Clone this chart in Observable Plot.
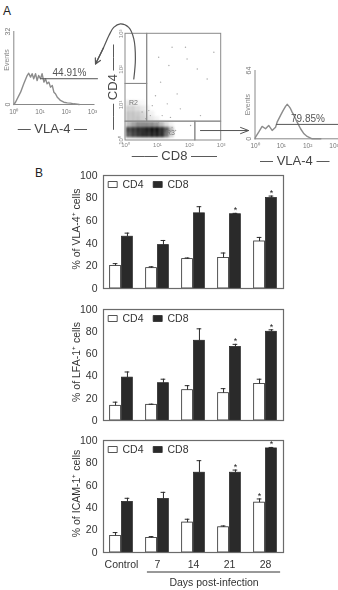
<!DOCTYPE html>
<html>
<head>
<meta charset="utf-8">
<script src="https://cdn.jsdelivr.net/npm/d3@7"></script>
<script src="https://cdn.jsdelivr.net/npm/@observablehq/plot@0.6"></script>
<style>
  html, body { margin: 0; padding: 0; background: #fff; }
  #fig { position: relative; width: 338px; height: 590px; overflow: hidden;
         font-family: "Liberation Sans", Arial, sans-serif; }
  #fig > svg { position: absolute; left: 0; }
  .tag { position: absolute; font-size: 12px; color: #222; line-height: 1; }
</style>
</head>
<body>
<div id="fig">
  <div class="tag" style="left:3px;top:5px">A</div>
  <div class="tag" style="left:35px;top:167px">B</div>
</div>
<script>
// ---------- Panel B: adhesion molecule expression on T cell subsets ----------
const days = ["Control", "7", "14", "21", "28"];
const subsets = ["CD4", "CD8"];

// % of VLA-4+ cells (mean, SEM)
const vla4CD4 = [20, 18, 26, 27, 41.6];
const vla4CD4Err = [2, 1.2, 1, 4.4, 3.6];
const vla4CD8 = [45.8, 38.4, 66.5, 65.7, 80];
const vla4CD8Err = [3.2, 4.1, 5.9, 0.8, 1.8];
const vla4Stars = ["21 CD8", "28 CD8"];

// % of LFA-1+ cells (mean, SEM)
const lfa1CD4 = [13.2, 14.1, 27.3, 24.6, 32.9];
const lfa1CD4Err = [3.3, 0.6, 4.1, 4.1, 4.3];
const lfa1CD8 = [38.6, 33.6, 71.8, 66.2, 79.9];
const lfa1CD8Err = [5.1, 3.6, 10.8, 2.4, 1.8];
const lfa1Stars = ["21 CD8", "28 CD8"];

// % of ICAM-1+ cells (mean, SEM)
const icam1CD4 = [14.8, 13, 26.7, 22.5, 44.5];
const icam1CD4Err = [3, 1.2, 3, 1.2, 3.3];
const icam1CD8 = [45.1, 47.7, 71.2, 71.2, 92.9];
const icam1CD8Err = [3.3, 6, 10.8, 2.4, 0.9];
const icam1Stars = ["21 CD8", "28 CD4", "28 CD8"];

// ---------- Panel A: flow cytometry ----------
const decades = [0, 1, 2, 3];
const decadeSup = ["\u2070", "\u00b9", "\u00b2", "\u00b3"];

// VLA-4 histogram of the CD4 gate (log10 fluorescence, events)
const leftHistLog = [0, 0.065, 0.26, 0.38, 0.51, 0.57, 0.64, 0.70, 0.76, 0.83, 0.89, 0.95, 1.02, 1.08, 1.15, 1.21, 1.27, 1.34, 1.40, 1.47, 1.53, 1.59, 1.66, 1.72, 1.78, 1.91, 2.04, 2.16, 2.29, 2.5];
const leftHistEvents = [0, 1.0, 5.4, 9.1, 12.7, 13.7, 12, 13.5, 11.3, 13.5, 10.5, 12.7, 11.3, 13.5, 9.8, 11.3, 9.1, 9.8, 7.6, 8.3, 5.4, 4.7, 3.2, 2.5, 1.8, 1.0, 0.7, 0.6, 0.3, 0];
const leftMax = 32;
const leftGate = [1.02, 3.23];
const leftGateLevel = 11.3;
const leftGateLabel = "44.91%";

// VLA-4 histogram of the CD8 gate
const rightHistLog = [0, 0.02, 0.14, 0.27, 0.40, 0.52, 0.65, 0.78, 0.84, 0.97, 1.07, 1.16, 1.22, 1.29, 1.35, 1.41, 1.48, 1.60, 1.73, 1.86, 1.98, 2.17, 2.5];
const rightHistEvents = [0, 1.5, 6.2, 11.6, 9.4, 12.5, 7.8, 10.9, 15.6, 21.9, 26.6, 30.4, 32.3, 30.4, 28.2, 25, 21.9, 15.6, 9.4, 4.7, 2.2, 0, 0];
const rightMax = 64;
const rightGate = [0.82, 3.2];
const rightGateLevel = 13.5;
const rightGateLabel = "79.85%";

// CD8 vs CD4 dot plot: event density on a log10 grid
const cd8Bins = [0.1, 0.25, 0.4, 0.55, 0.7, 0.85, 1.0, 1.15, 1.3, 1.45];
const cd4Bins = [0.15, 0.3, 0.45, 0.6, 0.75, 0.9, 1.05];
const density = [
  [0.70, 0.80, 0.85, 0.90, 0.90, 0.95, 0.95, 0.90, 0.60, 0.20],
  [0.80, 0.85, 0.90, 0.90, 0.95, 1.00, 1.00, 0.90, 0.70, 0.30],
  [0.30, 0.40, 0.50, 0.50, 0.50, 0.50, 0.45, 0.30, 0.15, 0.05],
  [0.25, 0.25, 0.25, 0.20, 0.15, 0.10, 0.05, 0, 0, 0],
  [0.25, 0.25, 0.22, 0.18, 0.10, 0.05, 0, 0, 0, 0],
  [0.20, 0.20, 0.15, 0.10, 0.05, 0, 0, 0, 0, 0],
  [0.10, 0.10, 0.05, 0.03, 0, 0, 0, 0, 0, 0]
];
// isolated events outside the main populations
const sparseCD8 = [1.46, 1.04, 1.36, 1.93, 2.25, 1.10, 1.62, 2.56, 1.31, 0.94, 0.84, 1.72, 2.35, 1.15, 1.41, 0.78, 0.73, 2.04, 2.77, 1.88, 1.46, 1.57, 0.89, 1.04, 0.63, 0.52];
const sparseCD4 = [2.62, 2.34, 2.11, 2.29, 2.01, 1.64, 1.31, 1.73, 1.03, 1.26, 0.98, 0.89, 0.70, 0.70, 0.65, 0.70, 0.84, 0.42, 2.48, 2.62, 0.37, 0.28, 0.53, 0.51, 0.61, 0.80];
// gate boundaries (log10 units)
const cd8Cut = 0.68, cd8CutR3 = 2.19, cd4Cut = 0.53, cd4CutR2 = 1.59;
const gateNames = ["R2", "R3"];
// curved pointer from the CD4 gate to its histogram, and from the CD8 gate to its histogram
const loopCD8 = [0.26, 0.31, 0.26, 0.10, -0.16, -0.37, -0.52, -0.69, -0.94];
const loopCD4 = [1.73, 2.29, 2.86, 3.18, 3.28, 3.18, 2.95, 2.61, 2.15];
const pointerCD8 = [2.35, 3.86];
const pointerCD4 = 0.28;

const FONT = '"Liberation Sans", Arial, sans-serif';
const fig = document.getElementById("fig");
function place(svg, top) {
  svg.style.top = top + "px";
  fig.appendChild(svg);
}
const baseStyle = extra => Object.assign({background: "transparent", overflow: "visible", fontFamily: FONT}, extra);
const decadeLabel = d => "10" + decadeSup[d];

// ---------- histogram builder ----------
function histogram({left, right, top, bottom, xMax, yMax, logs, events, gate, level, gateLabel, eventsDy, labelDy, labelDx}) {
  const pts = logs.map((x, i) => ({x, y: events[i]}));
  return Plot.plot({
    width: 338, height: 170,
    marginLeft: left, marginRight: 338 - right, marginTop: top, marginBottom: 170 - bottom,
    style: baseStyle({fontSize: "7px", color: "#666", filter: "grayscale(1)"}),
    x: {domain: [0, xMax], axis: null},
    y: {domain: [0, yMax], axis: null},
    marks: [
      Plot.ruleY([0], {stroke: "#888", strokeWidth: 1}),
      Plot.ruleX([0], {stroke: "#888", strokeWidth: 1}),
      Plot.line(pts, {x: "x", y: "y", stroke: "#8c8c8c", strokeWidth: 1.4}),
      Plot.ruleY([level], {x1: () => gate[0], x2: () => gate[1], stroke: "#555", strokeWidth: 1}),
      Plot.text([gateLabel], {x: () => (gate[0] + gate[1]) / 2, y: () => level, text: d => d, dy: -6, fontSize: 10, fill: "#555"}),
      Plot.text(decades, {x: d => d, y: () => 0, text: decadeLabel, dy: 7, fontSize: 6.5, fill: "#777"}),
      Plot.text([0, yMax], {x: () => 0, y: d => d, text: d => String(d), rotate: -90, dx: -6, fontSize: 7, fill: "#777"}),
      Plot.text(["Events"], {x: () => 0, y: () => yMax / 2, rotate: -90, dx: -7, dy: eventsDy, text: d => d,
        textAnchor: "middle", lineAnchor: "middle", fontSize: 7, fill: "#888"}),
      Plot.text(["\u2014 VLA-4 \u2014"], {x: () => xMax / 2, y: () => 0, dy: labelDy, dx: labelDx, text: d => d,
        textAnchor: "middle", lineAnchor: "middle", fontSize: 13, fill: "#444"})
    ]
  });
}

place(histogram({left: 13.3, right: 94.5, top: 31, bottom: 104, xMax: 3.1, yMax: leftMax,
  logs: leftHistLog, events: leftHistEvents, gate: leftGate, level: leftGateLevel, gateLabel: leftGateLabel,
  eventsDy: -8, labelDy: 24, labelDx: -2}), 0);
place(histogram({left: 254.5, right: 338, top: 70, bottom: 138.3, xMax: 3.17, yMax: rightMax,
  logs: rightHistLog, events: rightHistEvents, gate: rightGate, level: rightGateLevel, gateLabel: rightGateLabel,
  eventsDy: 0, labelDy: 22, labelDx: -2}), 0);

// ---------- dot plot ----------
const dotFrame = {width: 338, height: 170, marginLeft: 125, marginRight: 338 - 220.7, marginTop: 33.3, marginBottom: 30};
const cells = [];
cd4Bins.forEach((cd4, r) => cd8Bins.forEach((cd8, c) => {
  if (density[r][c] > 0) cells.push({cd8, cd4, density: density[r][c]});
}));
const hx = (cd8Bins[1] - cd8Bins[0]) / 2, hy = (cd4Bins[1] - cd4Bins[0]) / 2;

place(Plot.plot({
  ...dotFrame,
  style: baseStyle({filter: "blur(1.1px)"}),
  x: {domain: [0, 3], axis: null},
  y: {domain: [0, 3], axis: null},
  color: {type: "linear", domain: [0, 1], range: ["#ffffff", "#141414"]},
  marks: [
    Plot.rect(cells, {x1: d => d.cd8 - hx, x2: d => d.cd8 + hx, y1: d => d.cd4 - hy, y2: d => d.cd4 + hy, fill: "density"})
  ]
}), 0);

const gates = [
  {x1: 0, x2: cd8Cut, y1: cd4CutR2, y2: 3},
  {x1: 0, x2: cd8Cut, y1: cd4Cut, y2: cd4CutR2},
  {x1: cd8Cut, x2: 3, y1: cd4Cut, y2: 3},
  {x1: 0, x2: cd8CutR3, y1: 0, y2: cd4Cut},
  {x1: cd8CutR3, x2: 3, y1: 0, y2: cd4Cut}
];
const sparse = sparseCD8.map((cd8, i) => ({cd8, cd4: sparseCD4[i]}));
const loop = loopCD8.map((cd8, i) => ({cd8, cd4: loopCD4[i]}));
const n = loop.length;

place(Plot.plot({
  ...dotFrame,
  style: baseStyle({fontSize: "6px", color: "#666", filter: "grayscale(1)"}),
  x: {domain: [0, 3], axis: null},
  y: {domain: [0, 3], axis: null},
  marks: [
    Plot.dot(sparse, {x: "cd8", y: "cd4", r: 0.7, fill: "#a8a8a8", stroke: null}),
    Plot.rect(gates, {x1: "x1", x2: "x2", y1: "y1", y2: "y2", fill: "none", stroke: "#8a8a8a", strokeWidth: 1}),
    Plot.text(gateNames, {
      x: d => d === "R2" ? cd8Cut * 0.37 : cd8Cut * 2.07,
      y: d => d === "R2" ? (cd4Cut + cd4CutR2) / 2 : cd4Cut * 0.42,
      text: d => d, fontSize: 7, fill: "#777"
    }),
    Plot.text(decades, {x: d => d, y: () => 0, text: decadeLabel, dy: 5, fontSize: 6, fill: "#888"}),
    Plot.text(decades, {x: () => 0, y: d => d, text: decadeLabel, rotate: -90, dx: -4, fontSize: 6, fill: "#888"}),
    Plot.text(["\u2014\u2014 CD4 \u2014\u2014"], {x: () => 0, y: () => 1.5, rotate: -90, dx: -13, text: d => d,
      textAnchor: "middle", lineAnchor: "middle", fontSize: 13, fill: "#444"}),
    Plot.text(["\u2014\u2014 CD8 \u2014\u2014"], {x: () => 1.5, y: () => 0, dy: 15, dx: 1, text: d => d,
      textAnchor: "middle", lineAnchor: "middle", fontSize: 13, fill: "#444"}),
    Plot.line(loop, {x: "cd8", y: "cd4", curve: "catmull-rom", stroke: "#555", strokeWidth: 1.2}),
    Plot.arrow([0], {x1: () => loop[n - 2].cd8, y1: () => loop[n - 2].cd4, x2: () => loop[n - 1].cd8, y2: () => loop[n - 1].cd4,
      stroke: "#555", strokeWidth: 1.2, headLength: 11, headAngle: 55}),
    Plot.arrow([0], {x1: () => pointerCD8[0], x2: () => pointerCD8[1], y1: () => pointerCD4, y2: () => pointerCD4,
      stroke: "#555", strokeWidth: 1, headLength: 13, headAngle: 42})
  ]
}), 0);

// ---------- bar panels ----------
const swatch = {draw(context, size) { const s = Math.sqrt(size); context.rect(-0.75 * s, -0.5 * s, 1.5 * s, s); }};

function barPanel({frameH, label, cd4, cd4Err, cd8, cd8Err, stars, showDays}) {
  const rows = [];
  days.forEach((day, i) => {
    rows.push({i, day, subset: "CD4", value: cd4[i], err: cd4Err[i]});
    rows.push({i, day, subset: "CD8", value: cd8[i], err: cd8Err[i]});
  });
  rows.forEach(r => r.star = stars.includes(`${r.day} ${r.subset}`));
  const barW = 0.3, gap = 0.015, cap = 0.065;
  const left = r => r.subset === "CD4" ? r.i - gap - barW : r.i + gap;
  const mid = r => left(r) + barW / 2;
  const top2 = r => r.value + r.err;
  const marginTop = 15, marginBottom = showDays ? 40 : 8;
  const ruleX1 = 1 - 0.28, ruleX2 = days.length - 1 + 0.42;
  const marks = [
    Plot.rect(rows, {x1: left, x2: r => left(r) + barW, y1: 0, y2: "value", fill: "subset", stroke: "#2a2a2a", strokeWidth: 0.8}),
    Plot.ruleX(rows, {x: mid, y1: "value", y2: top2, stroke: "#2a2a2a", strokeWidth: 1}),
    Plot.ruleY(rows, {y: top2, x1: r => mid(r) - cap, x2: r => mid(r) + cap, stroke: "#2a2a2a", strokeWidth: 1}),
    Plot.text(rows.filter(r => r.star), {x: mid, y: top2, text: () => "*", dy: -3, fontSize: 9, fill: "#222"}),
    Plot.frame({stroke: "#6b6b6b", strokeWidth: 1.2}),
    Plot.text([label], {x: () => -0.5, y: () => 50, rotate: -90, dx: -27, dy: -3, text: d => d,
      textAnchor: "middle", lineAnchor: "middle", fontSize: 10.5, fill: "#333"})
  ];
  subsets.forEach((s, j) => {
    marks.push(Plot.dot([s], {frameAnchor: "top-left", dx: 9.2 + 45 * j, dy: 9, symbol: swatch, r: 3.385, fill: d => d, stroke: "#2a2a2a", strokeWidth: 0.8}));
    marks.push(Plot.text([s], {frameAnchor: "top-left", dx: 19 + 45 * j, dy: 9, text: d => d, textAnchor: "start", lineAnchor: "middle", fontSize: 10.5, fill: "#333"}));
  });
  if (showDays) {
    marks.push(Plot.ruleY([0], {x1: () => ruleX1, x2: () => ruleX2, dy: 19.5, stroke: "#333", strokeWidth: 1}));
    marks.push(Plot.text(["Days post-infection"], {x: () => (ruleX1 + ruleX2) / 2, y: () => 0, dy: 30.5, text: d => d,
      textAnchor: "middle", lineAnchor: "middle", fontSize: 10.5, fill: "#333"}));
  }
  return Plot.plot({
    width: 338, height: marginTop + frameH + marginBottom,
    marginLeft: 103, marginRight: 55, marginTop, marginBottom,
    style: baseStyle({fontSize: "10.5px", color: "#333", filter: "grayscale(1)"}),
    x: {type: "linear", domain: [-0.5, days.length - 0.5], ticks: d3.range(days.length), tickFormat: i => days[i],
        tickSize: 0, tickPadding: 8, label: null, axis: showDays ? "bottom" : null},
    y: {domain: [0, 100], ticks: d3.range(0, 101, 20), tickSize: 0, tickPadding: 6, label: null},
    color: {domain: subsets, range: ["#ffffff", "#2a2a2a"]},
    marks
  });
}

place(barPanel({frameH: 113, label: "% of VLA-4\u207a cells", cd4: vla4CD4, cd4Err: vla4CD4Err, cd8: vla4CD8, cd8Err: vla4CD8Err, stars: vla4Stars, showDays: false}), 160);
place(barPanel({frameH: 111, label: "% of LFA-1\u207a cells", cd4: lfa1CD4, cd4Err: lfa1CD4Err, cd8: lfa1CD8, cd8Err: lfa1CD8Err, stars: lfa1Stars, showDays: false}), 294);
place(barPanel({frameH: 112, label: "% of ICAM-1\u207a cells", cd4: icam1CD4, cd4Err: icam1CD4Err, cd8: icam1CD8, cd8Err: icam1CD8Err, stars: icam1Stars, showDays: true}), 425);
</script>
</body>
</html>
